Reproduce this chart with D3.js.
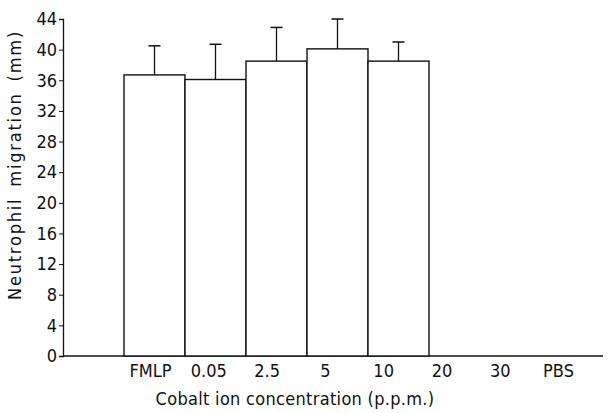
<!DOCTYPE html>
<html>
<head>
<meta charset="utf-8">
<script src="https://cdn.jsdelivr.net/npm/d3@7"></script>
<style>
  body { margin: 0; background: #fff; }
  text { font-family: "DejaVu Sans Condensed", "DejaVu Sans", sans-serif; fill: #111; }
</style>
</head>
<body>
<svg id="chart" width="610" height="413"></svg>
<script>
// data
let slots = ["", "FMLP", "0.05", "2.5", "5", "10", "20", "30", "PBS"];
let tickLabels = ["FMLP", "0.05", "2.5", "5", "10", "20", "30", "PBS"];
let barCats = ["FMLP", "0.05", "2.5", "5", "10"];
let barMeans = [36.7, 36.1, 38.5, 40.1, 38.5];
let barErrors = [3.8, 4.6, 4.4, 3.9, 2.5];
let yTicks = [0, 4, 8, 12, 16, 20, 24, 28, 32, 36, 40, 44];

let svg = d3.select("#chart");
let fontSize = "18px";

// scales
let x = d3.scaleBand().domain(slots).range([63, 612]).padding(0);
let xLab = d3.scalePoint().domain(tickLabels).range([150, 558]);
let y = d3.scaleLinear().domain([0, 44]).range([356, 19]);

// y axis
let yAxis = svg.append("g")
  .attr("transform", "translate(63,0)")
  .call(d3.axisLeft(y).tickValues(yTicks).tickSize(4).tickPadding(2));
yAxis.select(".domain").attr("stroke", "#111").attr("stroke-width", 1.3);
yAxis.selectAll(".tick line").attr("stroke", "#111");
yAxis.selectAll("text").style("font-size", fontSize);

// baseline
svg.append("line")
  .attr("x1", 63).attr("x2", 603)
  .attr("y1", y(0)).attr("y2", y(0))
  .attr("stroke", "#111").attr("stroke-width", 1.3);

// x tick labels
let xAxis = svg.append("g")
  .attr("transform", "translate(0," + y(0) + ")")
  .call(d3.axisBottom(xLab).tickSize(0).tickPadding(8));
xAxis.select(".domain").remove();
xAxis.selectAll("text").style("font-size", fontSize);

// bars
let data = barCats.map((c, i) => ({cat: c, mean: barMeans[i], err: barErrors[i]}));

svg.selectAll("rect.bar")
  .data(data)
  .enter().append("rect")
  .attr("class", "bar")
  .attr("x", d => x(d.cat))
  .attr("width", x.bandwidth())
  .attr("y", d => y(d.mean))
  .attr("height", d => y(0) - y(d.mean))
  .attr("fill", "#fff")
  .attr("stroke", "#111")
  .attr("stroke-width", 1.4);

// error bars (upper only)
let cx = d => x(d.cat) + x.bandwidth() / 2;
let eb = svg.selectAll("g.err")
  .data(data)
  .enter().append("g")
  .attr("class", "err");
eb.append("line")
  .attr("x1", cx).attr("x2", cx)
  .attr("y1", d => y(d.mean))
  .attr("y2", d => y(d.mean + d.err))
  .attr("stroke", "#111").attr("stroke-width", 1.3);
eb.append("line")
  .attr("x1", d => cx(d) - 6)
  .attr("x2", d => cx(d) + 6)
  .attr("y1", d => y(d.mean + d.err))
  .attr("y2", d => y(d.mean + d.err))
  .attr("stroke", "#111").attr("stroke-width", 1.5);

// axis titles
svg.append("text")
  .attr("x", 295).attr("y", 405)
  .attr("text-anchor", "middle")
  .style("font-size", fontSize)
  .style("letter-spacing", "0.3px")
  .text("Cobalt ion concentration (p.p.m.)");

svg.append("text")
  .attr("transform", "translate(21,165) rotate(-90)")
  .attr("text-anchor", "middle")
  .style("font-size", fontSize)
  .style("letter-spacing", "1.8px")
  .style("word-spacing", "4px")
  .text("Neutrophil migration (mm)");
</script>
</body>
</html>
